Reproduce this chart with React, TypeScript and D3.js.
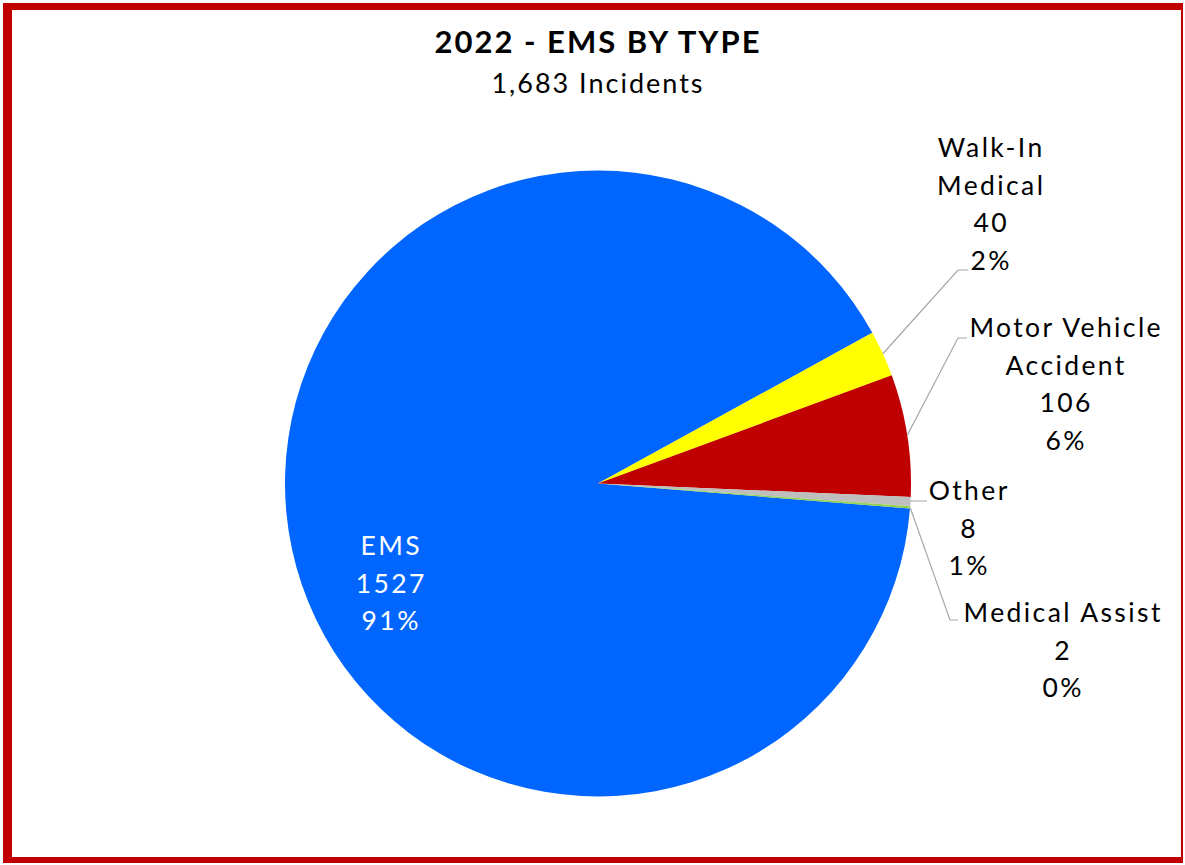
import React from "react";
import * as d3 from "d3";

const categories = ["EMS", "Walk-In Medical", "Motor Vehicle Accident", "Other", "Medical Assist"];
const values = [1527, 40, 106, 8, 2];
const percentLabels = ["91%", "2%", "6%", "1%", "0%"];
const colors = ["#0066FF", "#FFFF00", "#C00000", "#BFBFBF", "#92D050"];
const labelLines = [["EMS"], ["Walk-In", "Medical"], ["Motor Vehicle", "Accident"], ["Other"], ["Medical Assist"]];
const title = "2022 - EMS BY TYPE";
const subtitle = "1,683 Incidents";

// layout (not data)
const W = 1185, H = 865;
const cx = 598, cy = 483.5, R = 313;
const startDeg = 94.6;
const labelLayout = [
  { x: 390, y: 555, elbow: null as null | [number, number], end: null as null | [number, number], inside: true },
  { x: 990, y: 157, elbow: [958, 270], end: [968, 270], inside: false },
  { x: 1065, y: 337, elbow: [958, 338], end: [967, 338], inside: false },
  { x: 968, y: 500, elbow: [911, 501], end: [927, 501], inside: false },
  { x: 1062, y: 622, elbow: [950, 620], end: [958, 620], inside: false },
];
const FONT = "Lato, 'DejaVu Sans', sans-serif";
const LH = 37.5;

export default function App() {
  const pie = d3
    .pie<number>()
    .sort(null)
    .startAngle((startDeg * Math.PI) / 180)
    .endAngle((startDeg * Math.PI) / 180 + 2 * Math.PI)
    .value((d) => d);
  const arcs = pie(values);
  const arcGen = d3.arc<d3.PieArcDatum<number>>().innerRadius(0).outerRadius(R);

  return (
    <svg width={W} height={H} style={{ position: "absolute", left: 0, top: 0 }} fontFamily={FONT}>
      <rect x={0} y={0} width={W} height={H} fill="#fff" />
      <g transform={`translate(${cx},${cy})`}>
        {arcs.map((a, i) => (
          <path key={i} d={arcGen(a) || ""} fill={colors[i]} />
        ))}
      </g>
      {arcs.map((a, i) => {
        const L = labelLayout[i];
        if (!L.elbow || !L.end) return null;
        const mid = (a.startAngle + a.endAngle) / 2;
        const px = cx + R * Math.sin(mid);
        const py = cy - R * Math.cos(mid);
        return (
          <polyline
            key={"l" + i}
            points={`${px},${py} ${L.elbow[0]},${L.elbow[1]} ${L.end[0]},${L.end[1]}`}
            fill="none"
            stroke="#A6A6A6"
            strokeWidth={1.2}
          />
        );
      })}
      {categories.map((c, i) => {
        const L = labelLayout[i];
        const lines = [...labelLines[i], String(values[i]), percentLabels[i]];
        return (
          <text key={"t" + i} textAnchor="middle" fontSize={26.5} letterSpacing={2.4} fill={L.inside ? "#fff" : "#000"}>
            {lines.map((ln, j) => (
              <tspan key={j} x={L.x + 1.2} y={L.y + j * LH}>
                {ln}
              </tspan>
            ))}
          </text>
        );
      })}
      <text x={598} y={53} textAnchor="middle" fontSize={31} fontWeight={700} letterSpacing={2} fill="#000">
        {title}
      </text>
      <text x={598} y={93} textAnchor="middle" fontSize={27} letterSpacing={2} fill="#000">
        {subtitle}
      </text>
      {/* frame */}
      <rect x={3} y={3} width={9} height={859} fill="#C00000" />
      <rect x={3} y={3} width={1180} height={7} fill="#C00000" />
      <rect x={3} y={857} width={1180} height={6} fill="#C00000" />
      <rect x={1181} y={3} width={2} height={860} fill="#C00000" />
    </svg>
  );
}
